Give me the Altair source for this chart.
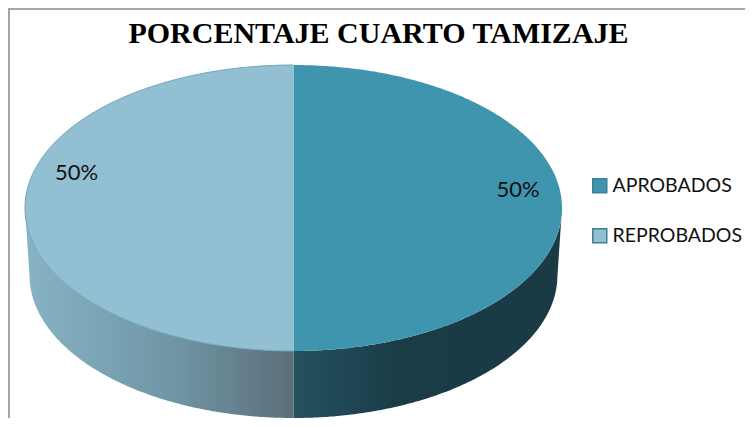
import numpy as np
import pandas as pd
import altair as alt

# ---- chart values ----
title_text = "PORCENTAJE CUARTO TAMIZAJE"
categories = ["APROBADOS", "REPROBADOS"]
shares = [50, 50]
top_colors = ["#4095AE", "#92BFD2"]
wall_stops = [
    [("#24525F", 0.0), ("#1A3C47", 0.40), ("#1A3A45", 1.0)],
    [("#88B3C5", 0.0), ("#6F96A5", 0.55), ("#5C6F7B", 1.0)],
]

# ---- drawing geometry (pixels of the page) ----
PLOT_LEFT, PLOT_TOP, PAGE_W, PAGE_H = 8, 8, 745, 418
CX, CY, RX, RY = 293.5, 208.0, 268.5, 143.0
DEPTH, RX_BOTTOM = 67.0, 264.0
LABEL_UV = [(0.836, 0.126), (-0.808, 0.245)]

x_domain = [(PLOT_LEFT - CX) / RX, (PAGE_W - CX) / RX]
y_domain = [(CY - PAGE_H) / RY, (CY - PLOT_TOP) / RY]
x_scale = alt.Scale(domain=x_domain, zero=False, nice=False)
y_scale = alt.Scale(domain=y_domain, zero=False, nice=False)
d = DEPTH / RY
ratio = RX_BOTTOM / RX

# Each slice's angular span comes from its share, clockwise from 12 o'clock
edges = np.cumsum([0] + shares) / sum(shares) * 2 * np.pi
top_rows, wall_rows = [], []
for name, a, b in zip(categories, edges[:-1], edges[1:]):
    th = np.linspace(a, b, 361)
    u = np.sin(th)
    for i, (uu, t) in enumerate(zip(u, th)):
        top_rows.append(dict(slice=name, u=uu, v=abs(np.cos(t)), v2=-abs(np.cos(t)),
                             edge=np.cos(t), order=i))
    sign = 1 if np.mean(u) > 0 else -1
    uw = np.unique(np.concatenate([u, [sign * ratio], sign * np.linspace(ratio, 1, 12)]))
    for uu in uw:
        upper = -np.sqrt(max(0.0, 1 - uu ** 2))
        if abs(uu) <= ratio:
            lower = -d - np.sqrt(max(0.0, 1 - (uu / ratio) ** 2))
        else:
            lower = -d * (1 - abs(uu)) / (1 - ratio)
        wall_rows.append(dict(slice=name, u=uu, v=upper, v2=lower))
top_df = pd.DataFrame(top_rows)
wall_df = pd.DataFrame(wall_rows)

label_df = pd.DataFrame({
    "label": [f"{s}%" for s in shares],
    "u": [p[0] for p in LABEL_UV],
    "v": [p[1] for p in LABEL_UV],
})

X = alt.X("u:Q", scale=x_scale, axis=None)
Y = alt.Y("v:Q", scale=y_scale, axis=None)

walls = []
for name, stops in zip(categories, wall_stops):
    grad = alt.Gradient(gradient="linear", x1=0, x2=1, y1=0, y2=0,
                        stops=[alt.GradientStop(color=c, offset=o) for c, o in stops])
    walls.append(
        alt.Chart(wall_df[wall_df.slice == name]).mark_area(fill=grad, clip=False)
        .encode(x=X, y=Y, y2="v2:Q")
    )

tops = alt.Chart(top_df).mark_area(clip=False, strokeWidth=0).encode(
    x=X, y=Y, y2="v2:Q",
    color=alt.Color(
        "slice:N",
        scale=alt.Scale(domain=categories, range=top_colors),
        legend=alt.Legend(
            title=None, orient="none", legendX=582, legendY=168,
            symbolType="square", symbolSize=196,
            symbolStrokeColor="#3C7F96", symbolStrokeWidth=1.5, symbolOpacity=1,
            labelFont="Lato", labelFontSize=19.5, labelColor="#111111",
            labelOffset=3, rowPadding=29, labelLimit=200,
        ),
    ),
)

outline = alt.Chart(top_df[top_df.slice == categories[1]]).mark_line(
    color="#6BA6BA", strokeWidth=1, clip=False
).encode(
    x=X, y=alt.Y("edge:Q", scale=y_scale, axis=None), order="order:Q"
)

labels = alt.Chart(label_df).mark_text(
    font="Lato", fontSize=22, color="#111111", align="center", baseline="middle"
).encode(x=X, y=Y, text="label:N")

frame_left = alt.Chart(label_df.head(1)).mark_rule(color="#A6A6A6", strokeWidth=2, clip=False).encode(
    x=alt.value(1), y=alt.value(0), y2=alt.value(PAGE_H - PLOT_TOP)
)
frame_top = alt.Chart(label_df.head(1)).mark_rule(color="#A6A6A6", strokeWidth=2, clip=False).encode(
    y=alt.value(1), x=alt.value(0), x2=alt.value(PAGE_W - PLOT_LEFT)
)

chart = alt.layer(
    *walls, tops, outline, labels, frame_left, frame_top
).properties(
    width=PAGE_W - PLOT_LEFT,
    height=PAGE_H - PLOT_TOP,
    title=alt.TitleParams(
        title_text, font="Liberation Serif", fontSize=30, fontWeight="bold",
        color="#000000", anchor="middle", offset=-42, dx=2,
    ),
    padding=0,
    autosize=alt.AutoSizeParams(type="none"),
    background="#FFFFFF",
).configure_view(stroke=None)

chart.save("out.html", embed_options={"renderer": "svg", "actions": False})
